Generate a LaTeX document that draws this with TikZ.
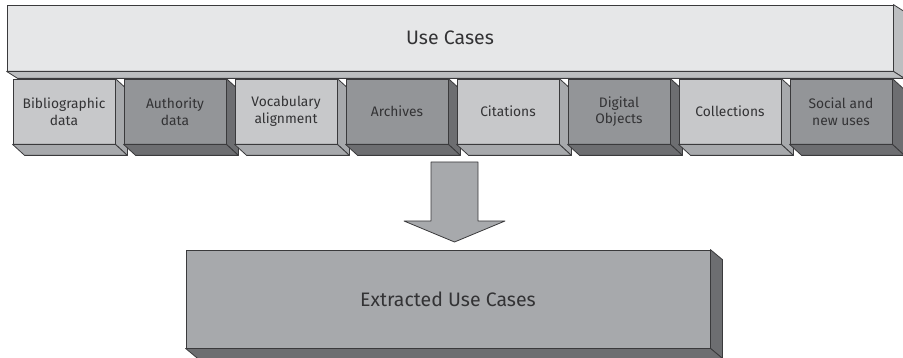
\documentclass[tikz,border=0pt]{standalone}
\usepackage{fontspec}
\setmainfont{Fira Sans}
\definecolor{topfront}{HTML}{E6E7E8}
\definecolor{topside}{HTML}{BCBEC0}
\definecolor{lightfront}{HTML}{C7C8CA}
\definecolor{lightside}{HTML}{A7A9AC}
\definecolor{darkfront}{HTML}{939598}
\definecolor{darkside}{HTML}{6D6E71}
\definecolor{edgecol}{HTML}{3A3A3C}
\definecolor{txtcol}{HTML}{333335}
\tikzset{
  face/.style={draw=edgecol, line width=0.8pt, line join=round},
  boxfront/.style={face, minimum width=102pt, minimum height=65pt, inner sep=0pt,
     text=txtcol, align=center, font=\fontsize{13.8}{16.5}\selectfont},
  lightbox/.style={boxfront, fill=lightfront},
  darkbox/.style={boxfront, fill=darkfront},
}
% faces of a box: #1 node name, #2 colour, #3 dx, #4 dy
\newcommand{\boxfaces}[4]{%
  \filldraw[face, fill=#2] (#1.north east) -- ++(#3,#4) -- ([shift={(#3,#4)}]#1.south east) -- (#1.south east) -- cycle;
  \filldraw[face, fill=#2] (#1.south west) -- ++(#3,#4) -- ([shift={(#3,#4)}]#1.south east) -- (#1.south east) -- cycle;
}
\begin{document}
\begin{tikzpicture}[x=1pt, y=-1pt]
\useasboundingbox (0,0) rectangle (903,358);
\begin{scope}
\clip (0,0) rectangle (903,358);
% top bar
\node[face, fill=topfront, minimum width=886pt, minimum height=66pt, inner sep=0pt,
      text=txtcol, font=\fontsize{19.5}{23}\selectfont] (uc) at (450,38) {Use Cases};
\boxfaces{uc}{topside}{11}{7}
% row of boxes
\node[lightbox] (b1) at (64,111.5) {Bibliographic\\data};
\boxfaces{b1}{lightside}{12}{11}
\node[darkbox] (b2) at (175,111.5) {Authority\\data};
\boxfaces{b2}{darkside}{12}{11}
\node[lightbox] (b3) at (286,111.5) {Vocabulary\\alignment};
\boxfaces{b3}{lightside}{12}{11}
\node[darkbox] (b4) at (397,111.5) {Archives};
\boxfaces{b4}{darkside}{12}{11}
\node[lightbox] (b5) at (508,111.5) {Citations};
\boxfaces{b5}{lightside}{12}{11}
\node[darkbox] (b6) at (619,111.5) {Digital\\Objects};
\boxfaces{b6}{darkside}{12}{11}
\node[lightbox] (b7) at (730,111.5) {Collections};
\boxfaces{b7}{lightside}{12}{11}
\node[darkbox] (b8) at (841,111.5) {Social and\\new uses};
\boxfaces{b8}{darkside}{12}{11}
% bottom box
\node[face, fill=lightside, minimum width=524pt, minimum height=98pt, inner sep=0pt,
      text=txtcol, font=\fontsize{19.5}{23}\selectfont] (ex) at (448,299) {Extracted Use Cases};
\boxfaces{ex}{darkside}{12}{10}
% block arrow
\filldraw[face, fill=lightside]
  (431,162) -- (478,162) -- (478,221) -- (505,221) -- (454.5,242)
  -- (404,221) -- (431,221) -- cycle;
\end{scope}
\end{tikzpicture}
\end{document}
